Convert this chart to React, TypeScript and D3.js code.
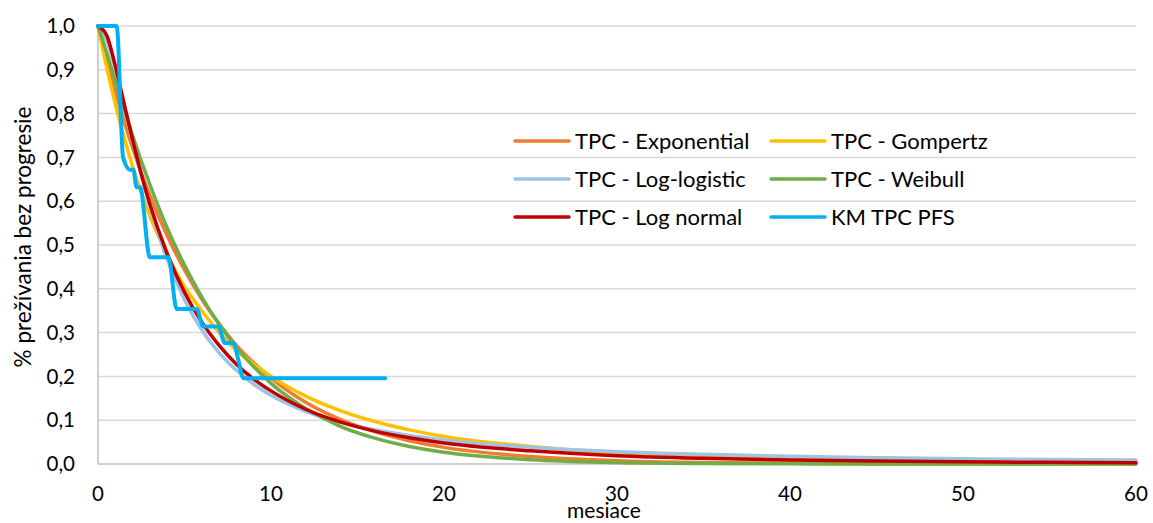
import React from 'react';
import * as d3 from 'd3';

// months on the x axis where the fitted curves were read
const months = [0, 0.5, 1, 1.5, 2, 2.5, 3, 4, 5, 6, 7, 8, 9, 10, 12, 14, 16, 18, 20, 25, 30, 35, 40, 45, 50, 55, 60];

const exponential = [1, 0.922, 0.85, 0.783, 0.722, 0.665, 0.613, 0.521, 0.443, 0.376, 0.32, 0.271, 0.231, 0.196, 0.141, 0.102, 0.074, 0.053, 0.038, 0.017, 0.0075, 0.0033, 0.0015, 0.0007, 0.0003, 0.0001, 0.0001];
const gompertz = [1, 0.906, 0.822, 0.747, 0.679, 0.62, 0.566, 0.478, 0.405, 0.35, 0.3, 0.26, 0.228, 0.2, 0.155, 0.122, 0.097, 0.078, 0.063, 0.04, 0.026, 0.018, 0.013, 0.01, 0.008, 0.007, 0.006];
const logLogistic = [1, 0.967, 0.901, 0.822, 0.739, 0.66, 0.588, 0.467, 0.375, 0.306, 0.254, 0.214, 0.182, 0.157, 0.12, 0.095, 0.078, 0.065, 0.055, 0.038, 0.028, 0.022, 0.0176, 0.0145, 0.0121, 0.0103, 0.0089];
const weibull = [1, 0.939, 0.874, 0.811, 0.75, 0.692, 0.638, 0.539, 0.454, 0.381, 0.319, 0.266, 0.222, 0.184, 0.127, 0.086, 0.059, 0.04, 0.027, 0.0097, 0.0035, 0.0012, 0.0004, 0.0001, 0, 0, 0];
const logNormal = [1, 0.979, 0.909, 0.824, 0.74, 0.662, 0.593, 0.48, 0.392, 0.324, 0.271, 0.228, 0.194, 0.167, 0.125, 0.096, 0.075, 0.06, 0.048, 0.03, 0.019, 0.013, 0.0093, 0.0067, 0.005, 0.0038, 0.0029];

// Kaplan-Meier
const kmMonths = [0, 1.08, 1.45, 1.85, 2.04, 2.23, 2.43, 3.0, 4.07, 4.55, 5.7, 6.09, 6.95, 7.34, 7.82, 8.11, 8.4, 16.6];
const kmSurvival = [1, 1, 0.7, 0.672, 0.672, 0.632, 0.632, 0.472, 0.472, 0.354, 0.354, 0.314, 0.314, 0.276, 0.276, 0.238, 0.196, 0.196];

const seriesNames = ['TPC - Exponential', 'TPC - Gompertz', 'TPC - Log-logistic', 'TPC - Weibull', 'TPC - Log normal', 'KM TPC PFS'];
const xTicks = [0, 10, 20, 30, 40, 50, 60];
const yTicks = [0, 0.1, 0.2, 0.3, 0.4, 0.5, 0.6, 0.7, 0.8, 0.9, 1.0];

const colors = ['#ED7D31', '#FFC000', '#9DC3E6', '#70AD47', '#C00000', '#00B0F0'];

const W = 1153;
const H = 523;
const left = 98;
const right = 1136;
const top = 26;
const bottom = 464;
const font = 'Lato, "Open Sans", sans-serif';

const App = () => {
  const x = d3.scaleLinear().domain([0, 60]).range([left, right]);
  const y = d3.scaleLinear().domain([0, 1]).range([bottom, top]);

  const line = d3
    .line<[number, number]>()
    .x((d) => x(d[0]))
    .y((d) => y(d[1]))
    .curve(d3.curveMonotoneX);

  const fitted = [exponential, gompertz, logLogistic, weibull, logNormal];
  const paths = fitted.map((vals) => line(months.map((m, i) => [m, vals[i]] as [number, number])));
  const kmPath = line(kmMonths.map((m, i) => [m, kmSurvival[i]] as [number, number]));

  const fmt = (v: number) => v.toFixed(1).replace('.', ',');

  return (
    <div style={{ position: 'absolute', left: 0, top: 0 }}>
      <svg width={W} height={H} style={{ display: 'block', background: '#fff' }}>
        {/* gridlines */}
        {yTicks.slice(1).map((t) => (
          <line key={t} x1={left} x2={right} y1={y(t)} y2={y(t)} stroke="#d9d9d9" strokeWidth={1.5} />
        ))}
        {/* axes */}
        <line x1={left} x2={left} y1={top} y2={bottom} stroke="#bfbfbf" strokeWidth={1.5} />
        <line x1={left} x2={right} y1={bottom} y2={bottom} stroke="#bfbfbf" strokeWidth={1.5} />

        {yTicks.map((t) => (
          <text key={t} x={75} y={y(t)} dy="0.35em" textAnchor="end" fontFamily={font} fontSize={20.5} fill="#000">
            {fmt(t)}
          </text>
        ))}
        {xTicks.map((t) => (
          <text key={t} x={x(t)} y={501} textAnchor="middle" fontFamily={font} fontSize={20.5} fill="#000">
            {t}
          </text>
        ))}

        <text x={604} y={518} textAnchor="middle" fontFamily={font} fontSize={21} fill="#000">
          mesiace
        </text>
        <text
          transform={`translate(31, 237) rotate(-90)`}
          textAnchor="middle"
          fontFamily={font}
          fontSize={22.5}
          fill="#000"
        >
          % prežívania bez progresie
        </text>

        {/* curves */}
        {paths.map((p, i) => (
          <path key={i} d={p || ''} fill="none" stroke={colors[i]} strokeWidth={3.5} strokeLinejoin="round" strokeLinecap="round" />
        ))}
        <path d={kmPath || ''} fill="none" stroke={colors[5]} strokeWidth={4} strokeLinejoin="round" strokeLinecap="round" />

        {/* legend */}
        {seriesNames.map((name, i) => {
          const col = i % 2;
          const row = Math.floor(i / 2);
          const lx = col === 0 ? 515 : 771;
          const ly = 141 + row * 38;
          return (
            <g key={name}>
              <line x1={lx} x2={lx + 54} y1={ly} y2={ly} stroke={colors[i]} strokeWidth={3.5} strokeLinecap="round" />
              <text x={lx + 60} y={ly} dy="0.35em" fontFamily={font} fontSize={22} fill="#000">
                {name}
              </text>
            </g>
          );
        })}
      </svg>
    </div>
  );
};

export default App;
